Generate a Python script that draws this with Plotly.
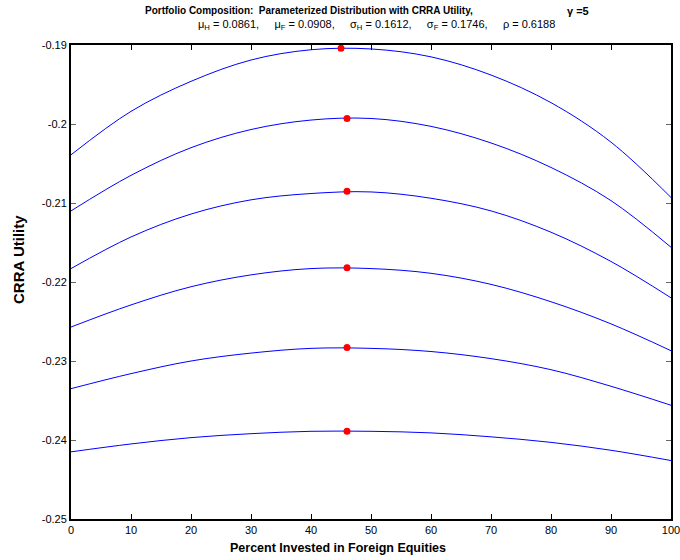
import plotly.graph_objects as go

# Percent invested in foreign equities
pct = [0, 10, 20, 30, 40, 50, 60, 70, 80, 90, 100]

# CRRA utility curves (top to bottom)
u1 = [-0.2039, -0.1984, -0.1946, -0.1919, -0.1906, -0.1905, -0.1915, -0.1938, -0.1973, -0.2023, -0.2093]
u2 = [-0.2110, -0.2065, -0.2030, -0.2007, -0.1995, -0.1993, -0.2003, -0.2024, -0.2055, -0.2097, -0.2156]
u3 = [-0.2183, -0.2143, -0.2114, -0.2096, -0.2088, -0.2086, -0.2094, -0.2110, -0.2137, -0.2174, -0.2220]
u4 = [-0.2257, -0.2229, -0.2206, -0.2191, -0.2183, -0.2183, -0.2189, -0.2203, -0.2225, -0.2253, -0.2287]
u5 = [-0.2335, -0.2316, -0.2300, -0.2290, -0.2284, -0.2284, -0.2288, -0.2297, -0.2311, -0.2332, -0.2356]
u6 = [-0.2415, -0.2405, -0.2397, -0.2392, -0.2389, -0.2389, -0.2391, -0.2396, -0.2403, -0.2413, -0.2426]
curves = [u1, u2, u3, u4, u5, u6]

# Optimal points (maxima)
opt_x = [45, 46, 46, 46, 46, 46]
opt_u = [-0.1904, -0.1993, -0.2085, -0.2182, -0.2283, -0.2389]

ytick_vals = [-0.19, -0.2, -0.21, -0.22, -0.23, -0.24, -0.25]
ytick_text = ["-0.19", "-0.2", "-0.21", "-0.22", "-0.23", "-0.24", "-0.25"]
xtick_vals = [0, 10, 20, 30, 40, 50, 60, 70, 80, 90, 100]

FONT = "Liberation Sans Narrow, Arial Narrow, Liberation Sans, Arial, sans-serif"

fig = go.Figure()
for u in curves:
    fig.add_trace(go.Scatter(x=pct, y=u, mode="lines", line=dict(color="#0000ff", width=1, shape="spline", smoothing=1.0),
                             showlegend=False, hoverinfo="skip"))
fig.add_trace(go.Scatter(x=opt_x, y=opt_u, mode="markers", marker=dict(color="#ff0000", size=7),
                         showlegend=False))

L, R, T, B = 71, 9, 45, 41
W, H = 680, 560
pw, ph = W - L - R, H - T - B

def px(xp):
    return (xp - L) / pw

def py(yp):
    return (H - B - yp) / ph

sp = "&nbsp;" * 5
fig.update_layout(
    width=W, height=H,
    margin=dict(l=L, r=R, t=T, b=B, autoexpand=False),
    paper_bgcolor="white", plot_bgcolor="white",
    font=dict(family=FONT, size=11, color="black"),
    xaxis=dict(range=[0, 100], tickvals=xtick_vals, ticks="inside", ticklen=5, tickcolor="black",
               showline=True, linecolor="black", linewidth=2, mirror="ticks", showgrid=False,
               zeroline=False, automargin=False, ticklabeloverflow="allow",
               tickfont=dict(family=FONT, size=11)),
    yaxis=dict(range=[-0.25, -0.19], tickvals=ytick_vals, ticktext=ytick_text, ticks="inside", ticklen=5,
               tickcolor="#666666", showline=True, linecolor="black", linewidth=2, mirror="ticks",
               showgrid=False, zeroline=False, automargin=False, ticklabeloverflow="allow",
               tickfont=dict(family=FONT, size=11)),
    annotations=[
        dict(text="<b>Portfolio Composition:  Parameterized Distribution with CRRA Utility,</b>",
             x=px(309), y=py(11), xref="paper", yref="paper", showarrow=False,
             xanchor="center", yanchor="middle", font=dict(family=FONT, size=10)),
        dict(text="<b>γ =5</b>", x=px(578), y=py(11), xref="paper", yref="paper", showarrow=False,
             xanchor="center", yanchor="middle", font=dict(family=FONT, size=11)),
        dict(text=f"μ<sub>H</sub> = 0.0861,{sp}μ<sub>F</sub> = 0.0908,{sp}σ<sub>H</sub> = 0.1612,{sp}σ<sub>F</sub> = 0.1746,{sp}ρ = 0.6188",
             x=px(376), y=py(25), xref="paper", yref="paper", showarrow=False,
             xanchor="center", yanchor="middle", font=dict(family=FONT, size=11)),
        dict(text="<b>Percent Invested in Foreign Equities</b>", x=px(338), y=py(548), xref="paper", yref="paper",
             showarrow=False, xanchor="center", yanchor="middle", font=dict(family=FONT, size=12.5)),
        dict(text="<b>CRRA Utility</b>", x=px(18), y=py(260), xref="paper", yref="paper", textangle=-90,
             showarrow=False, xanchor="center", yanchor="middle", font=dict(family=FONT, size=15)),
    ],
)

fig.write_html("out.html", config={"displayModeBar": False},
               post_script="document.body.style.margin='0';document.body.style.overflow='hidden';")
